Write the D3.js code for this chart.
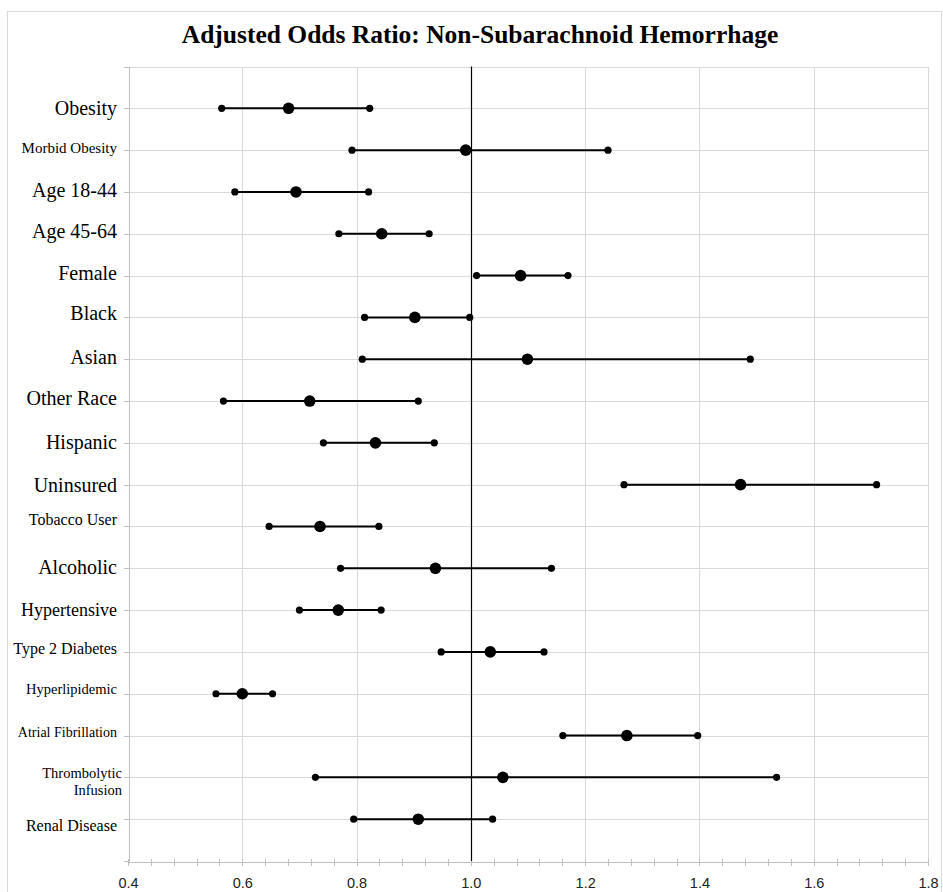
<!DOCTYPE html>
<html>
<head>
<meta charset="utf-8">
<script src="https://cdn.jsdelivr.net/npm/d3@7"></script>
<style>
  body { margin: 0; background: #fff; }
  .grid line { stroke: #d9d9d9; stroke-width: 1; shape-rendering: crispEdges; }
  .axis path, .axis line { stroke: #bfbfbf; shape-rendering: crispEdges; }
  .axis text { font-family: "Liberation Sans", Arial, sans-serif; font-size: 14.5px; fill: #222; }
  .cat { font-family: "Liberation Serif", "Times New Roman", serif; fill: #000; }
</style>
</head>
<body>
<script>
// row labels, top to bottom
var categories = ["Obesity", "Morbid Obesity", "Age 18-44", "Age 45-64", "Female", "Black",
  "Asian", "Other Race", "Hispanic", "Uninsured", "Tobacco User", "Alcoholic",
  "Hypertensive", "Type 2 Diabetes", "Hyperlipidemic", "Atrial Fibrillation",
  "Thrombolytic\nInfusion", "Renal Disease"];

// adjusted odds ratio and 95% CI
var oddsRatio = [0.681, 0.991, 0.694, 0.844, 1.087, 0.902, 1.099, 0.718, 0.833, 1.472,
  0.736, 0.938, 0.768, 1.034, 0.600, 1.273, 1.056, 0.908];
var lowerCI = [0.564, 0.792, 0.587, 0.769, 1.010, 0.814, 0.810, 0.567, 0.742, 1.268,
  0.647, 0.772, 0.700, 0.948, 0.554, 1.161, 0.728, 0.795];
var upperCI = [0.823, 1.240, 0.821, 0.927, 1.170, 0.998, 1.489, 0.908, 0.936, 1.710,
  0.839, 1.141, 0.843, 1.128, 0.653, 1.397, 1.535, 1.038];

var xTicks = [0.4, 0.6, 0.8, 1.0, 1.2, 1.4, 1.6, 1.8];

// label text boxes were sized / nudged by hand in the original
var labelSize = [20, 15, 20, 20, 20, 20, 20, 20, 20, 20, 16, 20, 18, 16, 14.5, 14, 14.5, 16];
var labelDy = [0, -2, -2, -3, -3, -4, -2, -3, -1, 0, -7, -1, 0, -4, -5, -3, -4, 6];

var width = 943, height = 892;

var svg = d3.select("body").append("svg")
    .attr("width", width)
    .attr("height", height);

// chart border
svg.append("rect")
    .attr("x", 7.5).attr("y", 11.5)
    .attr("width", 934).attr("height", 900)
    .attr("fill", "none")
    .attr("stroke", "#d9d9d9");

var x = d3.scaleLinear().domain([0.4, 1.8]).range([128, 928]);
var y = d3.scaleLinear().domain([0, categories.length + 1]).range([861, 66.5]);

function rowY(i) { return y(categories.length - i); }

// gridlines
var grid = svg.append("g").attr("class", "grid");
grid.selectAll(".h")
    .data(d3.range(1, categories.length + 2))
  .enter().append("line")
    .attr("x1", x(0.4)).attr("x2", x(1.8))
    .attr("y1", function(d) { return Math.round(y(d)) + 0.5; })
    .attr("y2", function(d) { return Math.round(y(d)) + 0.5; });
grid.selectAll(".v")
    .data(xTicks.slice(1))
  .enter().append("line")
    .attr("x1", function(d) { return Math.round(x(d)) + 0.5; })
    .attr("x2", function(d) { return Math.round(x(d)) + 0.5; })
    .attr("y1", y(0)).attr("y2", y(categories.length + 1));

// left axis (ticks only)
svg.append("g")
    .attr("class", "axis")
    .attr("transform", "translate(" + (x(0.4) + 0.5) + ",0)")
    .call(d3.axisLeft(y).tickValues(d3.range(0, categories.length + 2))
      .tickSize(5).tickSizeOuter(0).tickFormat(""));

// bottom axis: minor crossing ticks + labels
var minor = d3.range(0, 36).map(function(i) { return 0.4 + i * 0.04; });
var bottom = svg.append("g")
    .attr("class", "axis")
    .attr("transform", "translate(0," + (Math.round(y(0)) + 0.5) + ")");
bottom.call(d3.axisBottom(x).tickValues(minor).tickSize(4).tickSizeOuter(0).tickFormat(""));
bottom.selectAll(".tick line").attr("y1", -3);

var labels = svg.append("g")
    .attr("class", "axis")
    .attr("transform", "translate(0," + (Math.round(y(0)) + 0.5) + ")")
    .call(d3.axisBottom(x).tickValues(xTicks).tickSize(0).tickPadding(16)
      .tickFormat(d3.format(".1f")));
labels.select(".domain").remove();

// 1.0 reference line
svg.append("line")
    .attr("x1", Math.round(x(1.0)) + 0.5).attr("x2", Math.round(x(1.0)) + 0.5)
    .attr("y1", y(categories.length + 1)).attr("y2", y(0))
    .attr("stroke", "#000").attr("stroke-width", 1.2);

// whiskers
var rows = categories.map(function(c, i) {
  return {cat: c, or: oddsRatio[i], lo: lowerCI[i], hi: upperCI[i], i: i};
});

var marks = svg.append("g");
marks.selectAll(".ci")
    .data(rows)
  .enter().append("line")
    .attr("x1", function(d) { return x(d.lo); })
    .attr("x2", function(d) { return x(d.hi); })
    .attr("y1", function(d) { return rowY(d.i); })
    .attr("y2", function(d) { return rowY(d.i); })
    .attr("stroke", "#000")
    .attr("stroke-width", 2);

marks.selectAll(".lo")
    .data(rows)
  .enter().append("circle")
    .attr("cx", function(d) { return x(d.lo); })
    .attr("cy", function(d) { return rowY(d.i); })
    .attr("r", 3.6);

marks.selectAll(".hi")
    .data(rows)
  .enter().append("circle")
    .attr("cx", function(d) { return x(d.hi); })
    .attr("cy", function(d) { return rowY(d.i); })
    .attr("r", 3.6);

marks.selectAll(".or")
    .data(rows)
  .enter().append("circle")
    .attr("cx", function(d) { return x(d.or); })
    .attr("cy", function(d) { return rowY(d.i); })
    .attr("r", 5.8);

// row labels
svg.selectAll(".cat")
    .data(rows)
  .enter().append("text")
    .attr("class", "cat")
    .attr("text-anchor", "end")
    .style("font-size", function(d) { return labelSize[d.i] + "px"; })
    .each(function(d) {
      var parts = d.cat.split("\n");
      var el = d3.select(this);
      var lx = parts.length > 1 ? 122 : 117;
      var ly = rowY(d.i) + labelDy[d.i];
      parts.forEach(function(p, k) {
        el.append("tspan")
          .attr("x", lx)
          .attr("y", ly + k * 17)
          .attr("dy", "0.35em")
          .text(p);
      });
    });

// title
svg.append("text")
    .attr("x", 480)
    .attr("y", 43)
    .attr("text-anchor", "middle")
    .style("font-family", "'Liberation Serif', 'Times New Roman', serif")
    .style("font-weight", "bold")
    .style("font-size", "25.5px")
    .text("Adjusted Odds Ratio: Non-Subarachnoid Hemorrhage");
</script>
</body>
</html>
